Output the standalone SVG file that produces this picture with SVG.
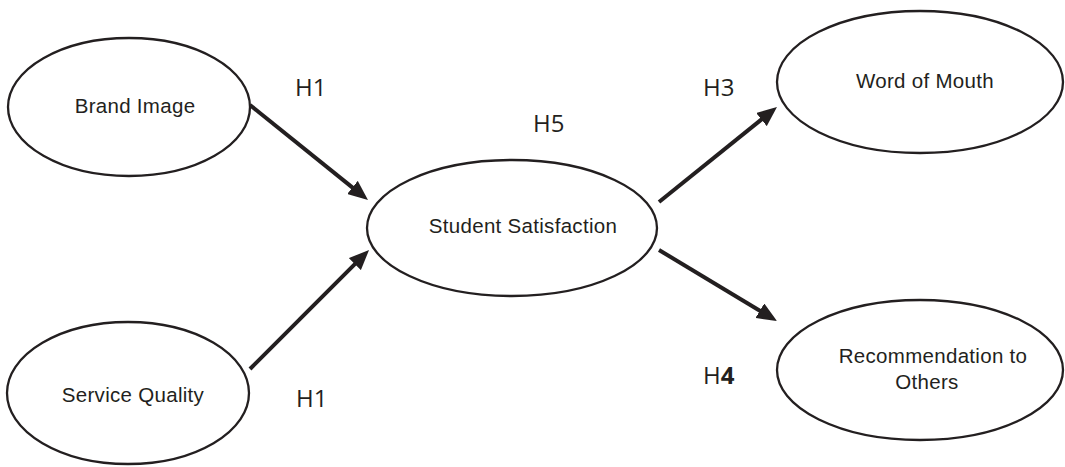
<svg xmlns="http://www.w3.org/2000/svg" width="1065" height="467" viewBox="0 0 1065 467">
<style>
.node{fill:#fff;stroke:#231f20;stroke-width:2.3}
.lbl{font-family:"Liberation Sans",Arial,sans-serif;font-size:20.5px;letter-spacing:0.3px;fill:#231f20;text-anchor:middle}
.h{font-family:"Open Sans","DejaVu Sans",sans-serif;font-size:24px;fill:#231f20}
.edge{stroke:#231f20;stroke-width:4;fill:none}
</style>
<defs>
<marker id="arr" markerUnits="userSpaceOnUse" markerWidth="20" markerHeight="17" refX="1" refY="8.5" orient="auto">
<path d="M0,0 L20,8.5 L0,17 z" fill="#231f20"/>
</marker>
</defs>
<rect width="1065" height="467" fill="#fff"/>
<g id="connectors">
<line class="edge" x1="250" y1="105" x2="353.2" y2="188.1" marker-end="url(#arr)"/>
<line class="edge" x1="250" y1="369" x2="355.6" y2="263.4" marker-end="url(#arr)"/>
<line class="edge" x1="659" y1="202" x2="762.2" y2="118.9" marker-end="url(#arr)"/>
<line class="edge" x1="659" y1="250" x2="760.7" y2="311.2" marker-end="url(#arr)"/>
</g>
<g id="brand-image">
<ellipse class="node" cx="129" cy="107" rx="121" ry="69"/>
<text class="lbl" x="135" y="113">Brand Image</text>
</g>
<g id="service-quality">
<ellipse class="node" cx="128" cy="393" rx="121" ry="71"/>
<text class="lbl" x="133" y="402">Service Quality</text>
</g>
<g id="student-satisfaction">
<ellipse class="node" cx="512" cy="228" rx="145" ry="68"/>
<text class="lbl" x="523" y="233">Student Satisfaction</text>
</g>
<g id="word-of-mouth">
<ellipse class="node" cx="920" cy="82" rx="143" ry="71"/>
<text class="lbl" x="925" y="88">Word of Mouth</text>
</g>
<g id="recommendation">
<ellipse class="node" cx="920" cy="370" rx="143" ry="70"/>
<text class="lbl" x="933" y="363">Recommendation to</text>
<text class="lbl" x="927" y="389">Others</text>
</g>
<g id="hypotheses">
<text class="h" x="295" y="96">H1</text>
<text class="h" x="296" y="407">H1</text>
<text class="h" x="533" y="132">H5</text>
<text class="h" x="703" y="96">H3</text>
<text class="h" x="703" y="384">H<tspan font-weight="bold">4</tspan></text>
</g>
</svg>
